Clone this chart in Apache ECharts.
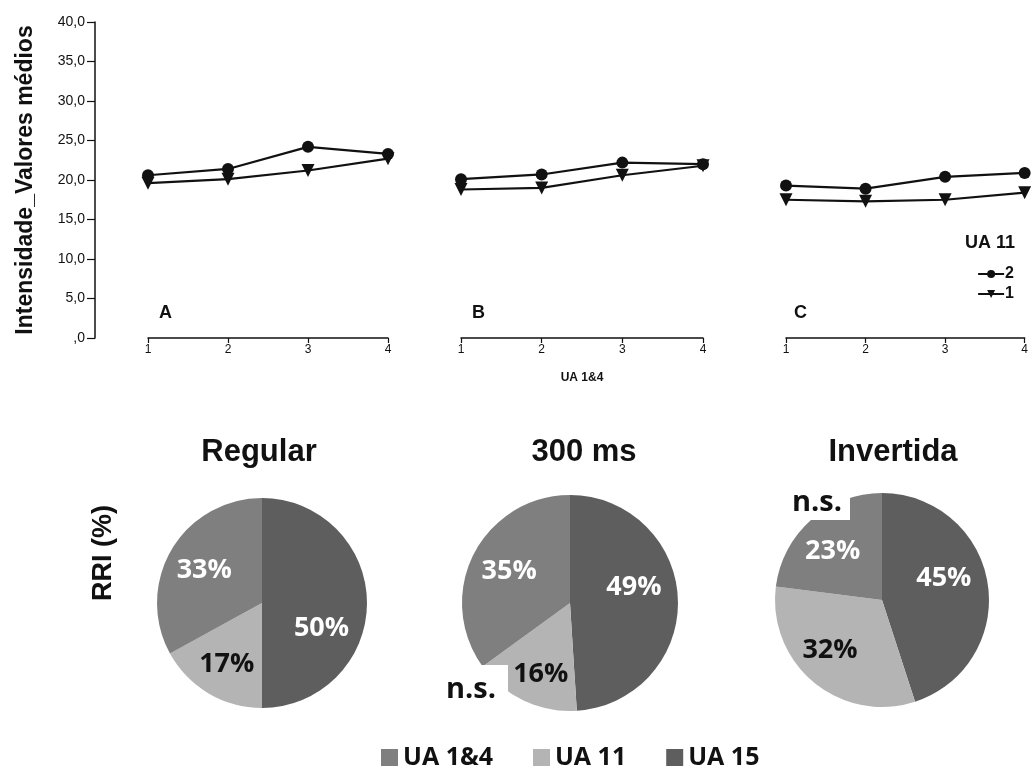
<!DOCTYPE html>
<html>
<head>
<meta charset="utf-8">
<script src="https://cdn.jsdelivr.net/npm/echarts@6/dist/echarts.min.js"></script>
<style>
  html, body { margin: 0; padding: 0; background: #ffffff; }
  #chart { width: 1031px; height: 767px; }
</style>
</head>
<body>
<div id="chart"></div>
<script>
// Mean intensity by UA 1&4 level, one line per UA 11 level
const xLevels = [1, 2, 3, 4];
const panelA_ua11_2 = [20.6, 21.4, 24.2, 23.3];
const panelA_ua11_1 = [19.6, 20.1, 21.2, 22.7];
const panelB_ua11_2 = [20.1, 20.7, 22.2, 22.0];
const panelB_ua11_1 = [18.8, 19.0, 20.6, 21.8];
const panelC_ua11_2 = [19.3, 18.9, 20.4, 20.9];
const panelC_ua11_1 = [17.5, 17.3, 17.5, 18.4];
const panelLetters = ['A', 'B', 'C'];
const yTickLabels = [',0', '5,0', '10,0', '15,0', '20,0', '25,0', '30,0', '35,0', '40,0'];

// RRI share (%) per condition
const pieTitles = ['Regular', '300 ms', 'Invertida'];
const pieCategories = ['UA 15', 'UA 11', 'UA 1&4'];
const rriRegular = [50, 17, 33];
const rri300ms = [49, 16, 35];
const rriInvertida = [45, 32, 23];
const legendOrder = ['UA 1&4', 'UA 11', 'UA 15'];

const chart = echarts.init(document.getElementById('chart'), null, { renderer: 'canvas' });

const AX = '#111111';
const lineFont = 'Liberation Sans, Arial, sans-serif';
const pieFont = 'Open Sans, Noto Sans, sans-serif';

const panels = [
  { left: 148, width: 240, s2: panelA_ua11_2, s1: panelA_ua11_1 },
  { left: 461, width: 242, s2: panelB_ua11_2, s1: panelB_ua11_1 },
  { left: 786, width: 241, s2: panelC_ua11_2, s1: panelC_ua11_1 }
];
const gridTop = 22, gridHeight = 316;

const grids = panels.map(p => ({ left: p.left, width: p.width, top: gridTop, height: gridHeight, containLabel: false }));

const xAxes = panels.map((p, i) => ({
  type: 'value', gridIndex: i, min: 1, max: 4, interval: 1,
  axisLine: { show: true, lineStyle: { color: AX, width: 1.5 } },
  axisTick: { show: true, length: 5, lineStyle: { color: AX, width: 1.2 } },
  axisLabel: { color: AX, fontFamily: lineFont, fontSize: 12, margin: 6 },
  splitLine: { show: false },
  name: i === 1 ? 'UA 1&4' : '',
  nameLocation: 'middle', nameGap: 34,
  nameTextStyle: { color: AX, fontFamily: lineFont, fontSize: 12, fontWeight: 'bold' }
}));

const yAxes = panels.map((p, i) => ({
  type: 'value', gridIndex: i, min: 0, max: 40, interval: 5,
  show: i === 0,
  offset: 53,
  axisLine: { show: true, lineStyle: { color: AX, width: 1.5 } },
  axisTick: { show: true, length: 8, lineStyle: { color: AX, width: 1.2 } },
  axisLabel: {
    color: AX, fontFamily: lineFont, fontSize: 14, margin: 10,
    formatter: v => yTickLabels[Math.round(v / 5)]
  },
  splitLine: { show: false },
  name: 'Intensidade_Valores médios',
  nameLocation: 'middle', nameGap: 58, nameRotate: 90,
  nameTextStyle: { color: AX, fontFamily: lineFont, fontSize: 23, fontWeight: 'bold' }
}));

const lineSeries = [];
panels.forEach((p, i) => {
  lineSeries.push({
    type: 'line', name: '2', xAxisIndex: i, yAxisIndex: i,
    data: xLevels.map((x, j) => [x, p.s2[j]]),
    symbol: 'circle', symbolSize: 12,
    lineStyle: { color: AX, width: 2.2 }, itemStyle: { color: AX },
    z: 3
  });
  lineSeries.push({
    type: 'line', name: '1', xAxisIndex: i, yAxisIndex: i,
    data: xLevels.map((x, j) => [x, p.s1[j]]),
    symbol: 'triangle', symbolSize: 13, symbolRotate: 180,
    lineStyle: { color: AX, width: 2.2 }, itemStyle: { color: AX },
    z: 3
  });
});

const sliceColors = { 'UA 1&4': '#7f7f7f', 'UA 11': '#b4b4b4', 'UA 15': '#5e5e5e' };
const labelColors = { 'UA 1&4': '#ffffff', 'UA 11': '#111111', 'UA 15': '#ffffff' };

// per-pie geometry and label nudges (order: UA 15, UA 11, UA 1&4)
const pieLayout = [
  { center: [262, 603], r: 105, titleX: 254, nudge: [[4, 25], [-7, 14], [-10, -4]] },
  { center: [570, 603], r: 108, titleX: 579, nudge: [[7, -14], [-5, 20], [-10, -6]] },
  { center: [882, 600], r: 107, titleX: 888, nudge: [[6, -13], [-16, 7], [-12, -6]] }
];

const pieData = [rriRegular, rri300ms, rriInvertida];
const pieSeries = pieData.map((vals, k) => ({
  type: 'pie', name: pieTitles[k],
  center: pieLayout[k].center, radius: [0, pieLayout[k].r],
  startAngle: 90, clockwise: true,
  label: {
    show: true, position: 'inside', formatter: '{c}%',
    fontFamily: pieFont, fontSize: 27, fontWeight: 'bold'
  },
  labelLayout: params => {
    const n = pieLayout[k].nudge[params.dataIndex];
    return { dx: n[0], dy: n[1] };
  },
  labelLine: { show: false },
  emphasis: { disabled: true },
  data: pieCategories.map((c, j) => ({
    name: c, value: vals[j],
    itemStyle: { color: sliceColors[c] },
    label: { color: labelColors[c] }
  }))
}));

const titles = pieTitles.map((t, k) => ({
  text: t, left: pieLayout[k].titleX, top: 432, textAlign: 'center',
  textStyle: { fontFamily: lineFont, fontSize: 31, fontWeight: 'bold', color: '#111' }
}));

function nsBox(x, y, w, h, tx, ty) {
  return {
    type: 'group', z: 100,
    children: [
      { type: 'rect', shape: { x: x, y: y, width: w, height: h }, style: { fill: '#ffffff' }, z: 100 },
      { type: 'text', x: tx, y: ty, z: 101,
        style: { text: 'n.s.', fill: '#111', font: 'bold 29px "Open Sans", "Noto Sans", sans-serif', textVerticalAlign: 'middle' } }
    ]
  };
}

const graphics = [
  ...panelLetters.map((L, i) => ({
    type: 'text', x: [159, 472, 794][i], y: 313,
    style: { text: L, fill: AX, font: 'bold 18px "Liberation Sans", Arial, sans-serif', textVerticalAlign: 'middle' }
  })),
  { type: 'text', x: 965, y: 243,
    style: { text: 'UA 11', fill: AX, font: 'bold 18px "Liberation Sans", Arial, sans-serif', textVerticalAlign: 'middle' } },
  { type: 'text', x: 104, y: 553, rotation: Math.PI / 2,
    style: { text: 'RRI (%)', fill: '#111', font: 'bold 27px "Liberation Sans", Arial, sans-serif', textAlign: 'center', textVerticalAlign: 'middle' } },
  nsBox(440, 665, 68, 50, 446, 690),
  nsBox(774, 484, 76, 36, 792, 503)
];

chart.setOption({
  animation: false,
  backgroundColor: '#ffffff',
  title: titles,
  grid: grids,
  xAxis: xAxes,
  yAxis: yAxes,
  legend: [
    {
      data: ['2', '1'], orient: 'vertical', right: 12, top: 261,
      itemWidth: 26, itemHeight: 10, itemGap: 4,
      textStyle: { color: AX, fontFamily: lineFont, fontSize: 16, fontWeight: 'bold', padding: [0, 0, 0, -4] },
      selectedMode: false
    },
    {
      data: legendOrder, orient: 'horizontal', left: 376, top: 740,
      icon: 'rect', itemWidth: 17, itemHeight: 17, itemGap: 40,
      textStyle: { color: '#111', fontFamily: pieFont, fontSize: 25, fontWeight: 'bold' },
      selectedMode: false
    }
  ],
  series: [...lineSeries, ...pieSeries],
  graphic: graphics
});
</script>
</body>
</html>
